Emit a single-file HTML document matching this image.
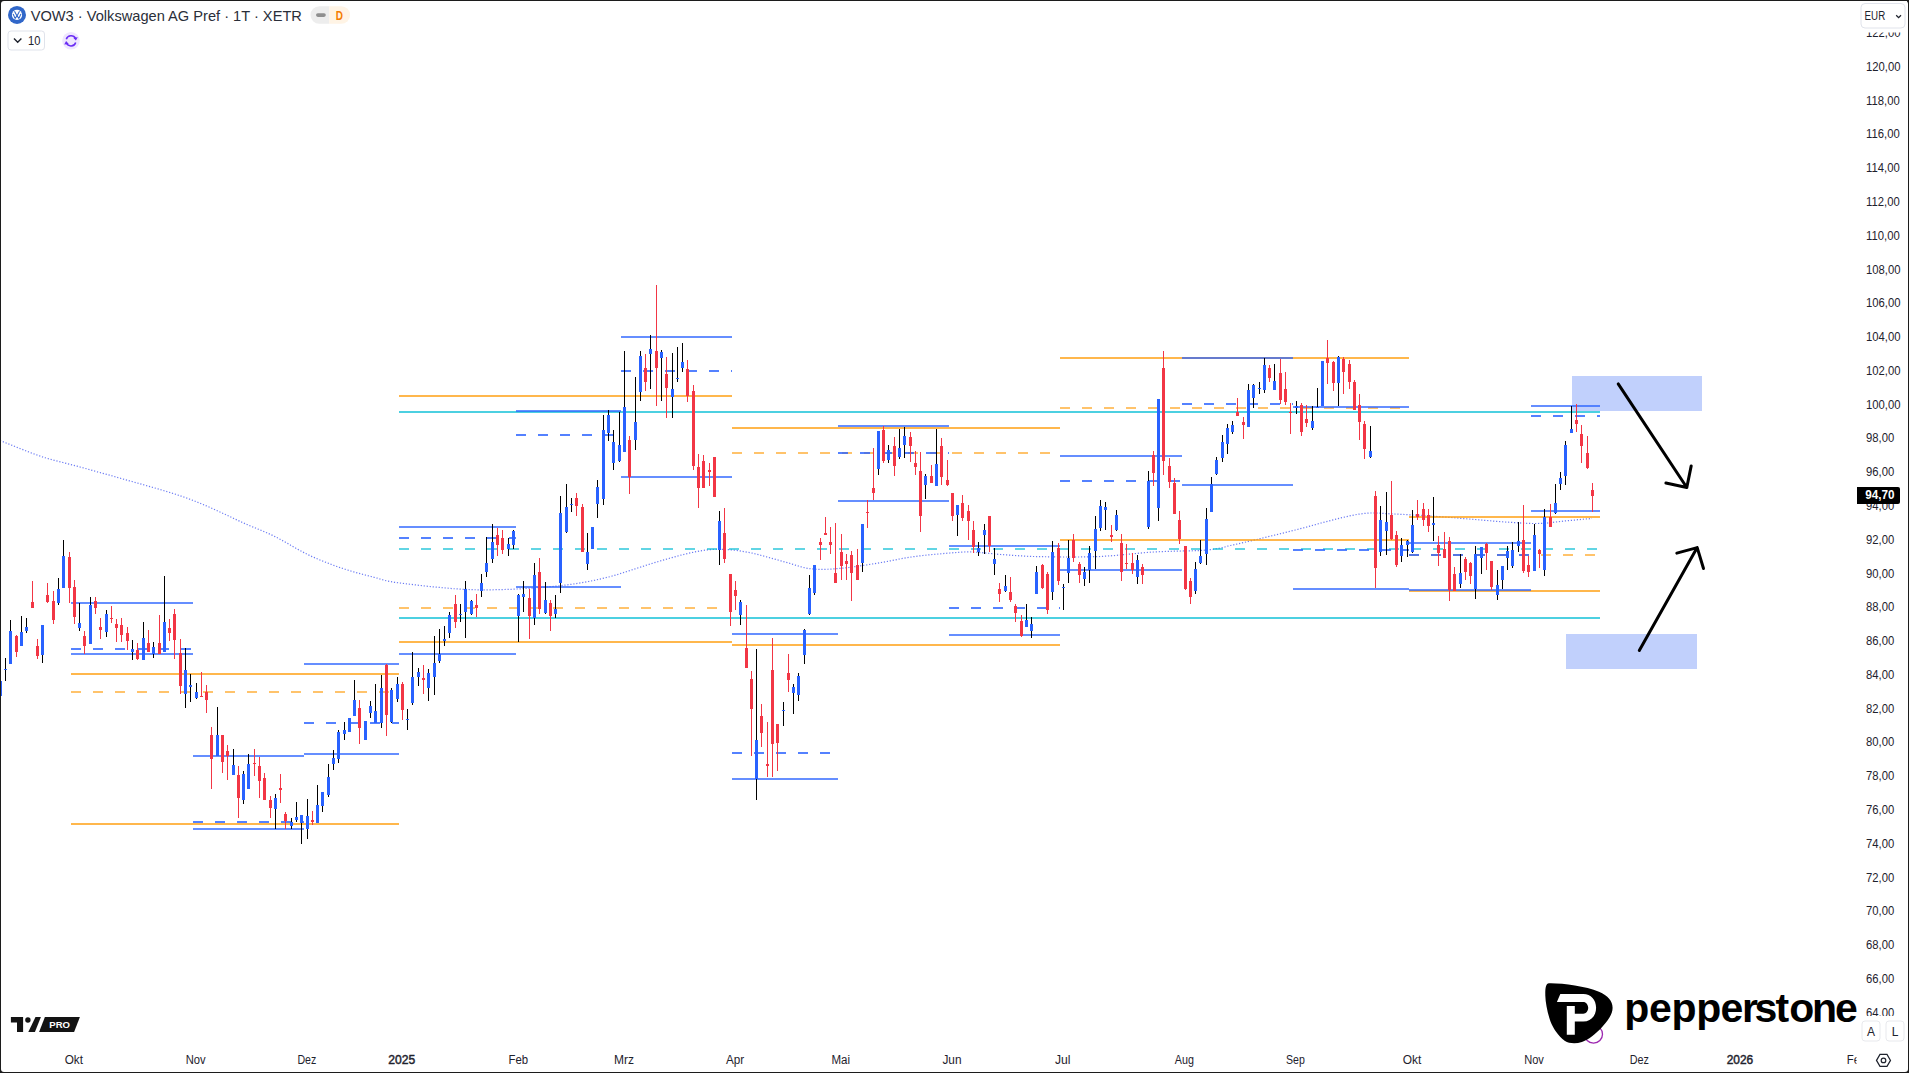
<!DOCTYPE html>
<html><head><meta charset="utf-8"><title>VOW3 chart</title>
<style>
html,body{margin:0;padding:0;background:#1c1c1c;}
body{width:1909px;height:1073px;overflow:hidden;position:relative;font-family:"Liberation Sans",sans-serif;}
#frame{position:absolute;left:1px;top:1px;width:1906.5px;height:1070.5px;background:#fff;border-radius:3px;overflow:hidden;}
svg{position:absolute;left:0;top:0;}
</style></head>
<body>
<div id="frame"></div>
<svg width="1909" height="1073" viewBox="0 0 1909 1073" font-family="Liberation Sans, sans-serif">
<defs>
<clipPath id="pane"><rect x="1" y="1" width="1855" height="1044"/></clipPath>
<clipPath id="taxis"><rect x="1" y="1045" width="1855.5" height="27"/></clipPath>
<clipPath id="paxis"><rect x="1857" y="30" width="50" height="986"/></clipPath>
</defs>
<g clip-path="url(#pane)" shape-rendering="crispEdges">
<rect x="1572" y="376" width="130" height="35" fill="#C1D0FC"/>
<rect x="1566" y="634" width="131" height="35" fill="#C1D0FC"/>
<path shape-rendering="geometricPrecision" d="M0.0,440.5 L3.2,441.8 L7.4,443.5 L12.5,445.5 L18.1,447.8 L24.0,450.1 L29.9,452.4 L35.5,454.5 L40.7,456.3 L45.4,457.8 L49.9,459.1 L54.2,460.3 L58.5,461.4 L62.9,462.5 L67.3,463.7 L72.0,464.9 L77.0,466.2 L82.2,467.6 L87.7,469.1 L93.2,470.7 L99.0,472.3 L104.8,473.9 L110.8,475.5 L116.8,477.3 L123.0,479.0 L129.4,480.8 L136.2,482.7 L143.2,484.7 L150.3,486.7 L157.3,488.7 L164.0,490.7 L170.3,492.6 L176.0,494.4 L181.1,496.1 L185.7,497.7 L189.8,499.2 L193.8,500.7 L197.5,502.2 L201.2,503.7 L205.0,505.3 L209.0,507.0 L213.1,508.8 L217.2,510.7 L221.4,512.6 L225.5,514.5 L229.6,516.5 L233.8,518.5 L237.9,520.4 L242.0,522.3 L246.1,524.1 L250.2,525.9 L254.4,527.6 L258.5,529.3 L262.6,531.0 L266.8,532.8 L270.9,534.6 L275.0,536.6 L279.1,538.7 L283.2,541.0 L287.4,543.3 L291.5,545.7 L295.6,548.1 L299.8,550.4 L303.9,552.6 L308.0,554.7 L312.1,556.6 L316.2,558.4 L320.4,560.2 L324.5,561.8 L328.6,563.4 L332.8,565.0 L336.9,566.5 L341.0,567.9 L345.2,569.3 L349.4,570.6 L353.7,571.9 L357.9,573.1 L362.1,574.2 L366.2,575.3 L370.2,576.3 L374.0,577.3 L377.3,578.2 L379.9,579.0 L382.2,579.7 L384.5,580.3 L387.1,581.0 L390.4,581.6 L394.5,582.3 L400.0,583.0 L406.9,583.9 L414.9,584.8 L423.9,585.9 L433.5,586.9 L443.5,587.8 L453.6,588.7 L463.5,589.3 L473.0,589.7 L482.3,589.9 L491.8,589.8 L501.4,589.6 L511.0,589.3 L520.4,588.8 L529.6,588.3 L538.4,587.7 L546.7,587.0 L554.5,586.3 L561.8,585.5 L568.7,584.7 L575.4,583.7 L581.9,582.7 L588.4,581.5 L595.0,580.2 L601.7,578.7 L608.7,577.0 L615.9,575.0 L623.1,572.7 L630.4,570.4 L637.4,568.1 L644.3,565.9 L650.7,563.8 L656.7,562.0 L662.2,560.4 L667.3,558.9 L672.1,557.6 L676.7,556.3 L681.0,555.1 L685.1,554.1 L689.1,553.1 L693.0,552.3 L696.7,551.6 L700.2,550.9 L703.4,550.4 L706.5,550.0 L709.5,549.7 L712.5,549.5 L715.7,549.3 L719.0,549.3 L722.4,549.3 L725.9,549.5 L729.3,549.7 L732.8,550.0 L736.4,550.4 L740.1,550.9 L744.0,551.6 L748.0,552.3 L752.3,553.2 L757.0,554.3 L761.8,555.6 L766.7,556.9 L771.6,558.3 L776.4,559.6 L780.9,560.9 L785.0,562.0 L788.7,563.0 L792.1,564.1 L795.3,565.1 L798.3,566.0 L801.3,566.9 L804.3,567.7 L807.4,568.3 L810.7,568.8 L814.1,569.1 L817.6,569.3 L821.1,569.4 L824.7,569.3 L828.3,569.2 L832.1,569.0 L836.0,568.7 L840.0,568.4 L844.2,568.0 L848.7,567.5 L853.2,566.9 L857.9,566.2 L862.6,565.5 L867.4,564.8 L872.1,564.0 L876.7,563.3 L881.3,562.5 L885.9,561.7 L890.5,560.8 L895.1,559.9 L899.6,559.0 L904.2,558.2 L908.8,557.4 L913.4,556.7 L918.1,556.1 L922.9,555.5 L927.8,555.0 L932.6,554.5 L937.3,554.1 L941.9,553.7 L946.1,553.3 L950.0,553.0 L953.4,552.7 L956.3,552.5 L958.8,552.3 L961.2,552.1 L963.6,552.0 L966.1,551.9 L968.8,551.9 L972.0,552.0 L975.6,552.2 L979.4,552.5 L983.4,552.8 L987.6,553.2 L991.9,553.6 L996.2,554.1 L1000.6,554.5 L1005.0,554.8 L1009.3,555.1 L1013.4,555.4 L1017.5,555.7 L1021.8,555.9 L1026.2,556.2 L1030.9,556.4 L1036.1,556.6 L1041.7,556.7 L1048.0,556.8 L1054.9,556.9 L1062.2,557.0 L1069.8,557.0 L1077.5,557.0 L1085.3,556.9 L1092.8,556.7 L1100.0,556.5 L1106.9,556.1 L1113.7,555.6 L1120.4,555.0 L1127.0,554.4 L1133.6,553.7 L1140.2,553.1 L1146.8,552.5 L1153.4,552.0 L1160.3,551.7 L1167.4,551.4 L1174.6,551.2 L1181.8,551.0 L1188.8,550.9 L1195.4,550.7 L1201.5,550.4 L1206.9,550.0 L1211.5,549.5 L1215.5,548.9 L1218.9,548.3 L1221.9,547.7 L1224.8,547.0 L1227.6,546.2 L1230.4,545.5 L1233.6,544.8 L1236.8,544.1 L1240.0,543.4 L1243.0,542.7 L1246.1,542.0 L1249.3,541.2 L1252.7,540.4 L1256.3,539.6 L1260.3,538.6 L1264.7,537.5 L1269.4,536.4 L1274.4,535.2 L1279.5,533.9 L1284.8,532.6 L1290.1,531.3 L1295.3,530.0 L1300.4,528.7 L1305.5,527.4 L1310.7,525.9 L1316.0,524.5 L1321.2,523.0 L1326.4,521.6 L1331.3,520.3 L1336.0,519.1 L1340.4,518.0 L1344.4,517.1 L1348.0,516.3 L1351.4,515.5 L1354.6,514.9 L1357.7,514.3 L1360.8,513.9 L1363.9,513.5 L1367.2,513.2 L1370.5,513.0 L1373.6,513.0 L1376.6,513.0 L1379.7,513.2 L1382.9,513.4 L1386.3,513.6 L1389.9,513.8 L1393.9,514.0 L1398.3,514.2 L1403.0,514.4 L1408.0,514.7 L1413.1,515.0 L1418.4,515.2 L1423.7,515.5 L1428.9,515.9 L1434.0,516.2 L1439.0,516.6 L1444.0,516.9 L1449.0,517.3 L1454.0,517.7 L1459.0,518.2 L1464.0,518.6 L1469.0,519.0 L1474.0,519.4 L1479.1,519.8 L1484.3,520.3 L1489.6,520.7 L1494.9,521.2 L1500.0,521.6 L1505.0,522.0 L1509.7,522.3 L1514.1,522.6 L1518.1,522.8 L1521.7,523.1 L1525.1,523.2 L1528.3,523.4 L1531.4,523.5 L1534.4,523.5 L1537.6,523.5 L1540.8,523.4 L1544.2,523.2 L1547.5,523.0 L1550.9,522.6 L1554.3,522.2 L1557.6,521.8 L1561.0,521.4 L1564.3,521.0 L1567.5,520.7 L1570.8,520.4 L1574.4,520.1 L1577.9,519.7 L1581.4,519.4 L1584.7,519.1 L1587.6,518.9 L1590.1,518.7 L1592.0,518.5" fill="none" stroke="rgba(70,90,240,0.8)" stroke-width="1.2" stroke-dasharray="1.2 1.8"/>
<rect x="399" y="411" width="1201" height="2" fill="rgba(0,188,212,0.70)"/>
<rect x="399" y="617" width="1201" height="2" fill="rgba(0,188,212,0.70)"/>
<rect x="399" y="548" width="10" height="2" fill="rgba(0,188,212,0.62)"/>
<rect x="421" y="548" width="10" height="2" fill="rgba(0,188,212,0.62)"/>
<rect x="443" y="548" width="10" height="2" fill="rgba(0,188,212,0.62)"/>
<rect x="465" y="548" width="10" height="2" fill="rgba(0,188,212,0.62)"/>
<rect x="487" y="548" width="10" height="2" fill="rgba(0,188,212,0.62)"/>
<rect x="509" y="548" width="10" height="2" fill="rgba(0,188,212,0.62)"/>
<rect x="531" y="548" width="10" height="2" fill="rgba(0,188,212,0.62)"/>
<rect x="553" y="548" width="10" height="2" fill="rgba(0,188,212,0.62)"/>
<rect x="575" y="548" width="10" height="2" fill="rgba(0,188,212,0.62)"/>
<rect x="597" y="548" width="10" height="2" fill="rgba(0,188,212,0.62)"/>
<rect x="619" y="548" width="10" height="2" fill="rgba(0,188,212,0.62)"/>
<rect x="641" y="548" width="10" height="2" fill="rgba(0,188,212,0.62)"/>
<rect x="663" y="548" width="10" height="2" fill="rgba(0,188,212,0.62)"/>
<rect x="685" y="548" width="10" height="2" fill="rgba(0,188,212,0.62)"/>
<rect x="707" y="548" width="10" height="2" fill="rgba(0,188,212,0.62)"/>
<rect x="729" y="548" width="10" height="2" fill="rgba(0,188,212,0.62)"/>
<rect x="751" y="548" width="10" height="2" fill="rgba(0,188,212,0.62)"/>
<rect x="773" y="548" width="10" height="2" fill="rgba(0,188,212,0.62)"/>
<rect x="795" y="548" width="10" height="2" fill="rgba(0,188,212,0.62)"/>
<rect x="817" y="548" width="10" height="2" fill="rgba(0,188,212,0.62)"/>
<rect x="839" y="548" width="10" height="2" fill="rgba(0,188,212,0.62)"/>
<rect x="861" y="548" width="10" height="2" fill="rgba(0,188,212,0.62)"/>
<rect x="883" y="548" width="10" height="2" fill="rgba(0,188,212,0.62)"/>
<rect x="905" y="548" width="10" height="2" fill="rgba(0,188,212,0.62)"/>
<rect x="927" y="548" width="10" height="2" fill="rgba(0,188,212,0.62)"/>
<rect x="949" y="548" width="10" height="2" fill="rgba(0,188,212,0.62)"/>
<rect x="971" y="548" width="10" height="2" fill="rgba(0,188,212,0.62)"/>
<rect x="993" y="548" width="10" height="2" fill="rgba(0,188,212,0.62)"/>
<rect x="1015" y="548" width="10" height="2" fill="rgba(0,188,212,0.62)"/>
<rect x="1037" y="548" width="10" height="2" fill="rgba(0,188,212,0.62)"/>
<rect x="1059" y="548" width="10" height="2" fill="rgba(0,188,212,0.62)"/>
<rect x="1081" y="548" width="10" height="2" fill="rgba(0,188,212,0.62)"/>
<rect x="1103" y="548" width="10" height="2" fill="rgba(0,188,212,0.62)"/>
<rect x="1125" y="548" width="10" height="2" fill="rgba(0,188,212,0.62)"/>
<rect x="1147" y="548" width="10" height="2" fill="rgba(0,188,212,0.62)"/>
<rect x="1169" y="548" width="10" height="2" fill="rgba(0,188,212,0.62)"/>
<rect x="1191" y="548" width="10" height="2" fill="rgba(0,188,212,0.62)"/>
<rect x="1213" y="548" width="10" height="2" fill="rgba(0,188,212,0.62)"/>
<rect x="1235" y="548" width="10" height="2" fill="rgba(0,188,212,0.62)"/>
<rect x="1257" y="548" width="10" height="2" fill="rgba(0,188,212,0.62)"/>
<rect x="1279" y="548" width="10" height="2" fill="rgba(0,188,212,0.62)"/>
<rect x="1301" y="548" width="10" height="2" fill="rgba(0,188,212,0.62)"/>
<rect x="1323" y="548" width="10" height="2" fill="rgba(0,188,212,0.62)"/>
<rect x="1345" y="548" width="10" height="2" fill="rgba(0,188,212,0.62)"/>
<rect x="1367" y="548" width="10" height="2" fill="rgba(0,188,212,0.62)"/>
<rect x="1389" y="548" width="10" height="2" fill="rgba(0,188,212,0.62)"/>
<rect x="1411" y="548" width="10" height="2" fill="rgba(0,188,212,0.62)"/>
<rect x="1433" y="548" width="10" height="2" fill="rgba(0,188,212,0.62)"/>
<rect x="1455" y="548" width="10" height="2" fill="rgba(0,188,212,0.62)"/>
<rect x="1477" y="548" width="10" height="2" fill="rgba(0,188,212,0.62)"/>
<rect x="1499" y="548" width="10" height="2" fill="rgba(0,188,212,0.62)"/>
<rect x="1521" y="548" width="10" height="2" fill="rgba(0,188,212,0.62)"/>
<rect x="1543" y="548" width="10" height="2" fill="rgba(0,188,212,0.62)"/>
<rect x="1565" y="548" width="10" height="2" fill="rgba(0,188,212,0.62)"/>
<rect x="1587" y="548" width="10" height="2" fill="rgba(0,188,212,0.62)"/>
<rect x="71" y="673" width="328" height="2" fill="rgba(255,152,0,0.70)"/>
<rect x="71" y="823" width="328" height="2" fill="rgba(255,152,0,0.70)"/>
<rect x="71" y="691" width="10" height="2" fill="rgba(255,152,0,0.58)"/>
<rect x="93" y="691" width="10" height="2" fill="rgba(255,152,0,0.58)"/>
<rect x="115" y="691" width="10" height="2" fill="rgba(255,152,0,0.58)"/>
<rect x="137" y="691" width="10" height="2" fill="rgba(255,152,0,0.58)"/>
<rect x="159" y="691" width="10" height="2" fill="rgba(255,152,0,0.58)"/>
<rect x="181" y="691" width="10" height="2" fill="rgba(255,152,0,0.58)"/>
<rect x="203" y="691" width="10" height="2" fill="rgba(255,152,0,0.58)"/>
<rect x="225" y="691" width="10" height="2" fill="rgba(255,152,0,0.58)"/>
<rect x="247" y="691" width="10" height="2" fill="rgba(255,152,0,0.58)"/>
<rect x="269" y="691" width="10" height="2" fill="rgba(255,152,0,0.58)"/>
<rect x="291" y="691" width="10" height="2" fill="rgba(255,152,0,0.58)"/>
<rect x="313" y="691" width="10" height="2" fill="rgba(255,152,0,0.58)"/>
<rect x="335" y="691" width="10" height="2" fill="rgba(255,152,0,0.58)"/>
<rect x="357" y="691" width="10" height="2" fill="rgba(255,152,0,0.58)"/>
<rect x="379" y="691" width="10" height="2" fill="rgba(255,152,0,0.58)"/>
<rect x="399" y="395" width="333" height="2" fill="rgba(255,152,0,0.70)"/>
<rect x="399" y="641" width="333" height="2" fill="rgba(255,152,0,0.70)"/>
<rect x="399" y="607" width="10" height="2" fill="rgba(255,152,0,0.58)"/>
<rect x="421" y="607" width="10" height="2" fill="rgba(255,152,0,0.58)"/>
<rect x="443" y="607" width="10" height="2" fill="rgba(255,152,0,0.58)"/>
<rect x="465" y="607" width="10" height="2" fill="rgba(255,152,0,0.58)"/>
<rect x="487" y="607" width="10" height="2" fill="rgba(255,152,0,0.58)"/>
<rect x="509" y="607" width="10" height="2" fill="rgba(255,152,0,0.58)"/>
<rect x="531" y="607" width="10" height="2" fill="rgba(255,152,0,0.58)"/>
<rect x="553" y="607" width="10" height="2" fill="rgba(255,152,0,0.58)"/>
<rect x="575" y="607" width="10" height="2" fill="rgba(255,152,0,0.58)"/>
<rect x="597" y="607" width="10" height="2" fill="rgba(255,152,0,0.58)"/>
<rect x="619" y="607" width="10" height="2" fill="rgba(255,152,0,0.58)"/>
<rect x="641" y="607" width="10" height="2" fill="rgba(255,152,0,0.58)"/>
<rect x="663" y="607" width="10" height="2" fill="rgba(255,152,0,0.58)"/>
<rect x="685" y="607" width="10" height="2" fill="rgba(255,152,0,0.58)"/>
<rect x="707" y="607" width="10" height="2" fill="rgba(255,152,0,0.58)"/>
<rect x="729" y="607" width="3" height="2" fill="rgba(255,152,0,0.58)"/>
<rect x="732" y="427" width="328" height="2" fill="rgba(255,152,0,0.70)"/>
<rect x="732" y="644" width="328" height="2" fill="rgba(255,152,0,0.70)"/>
<rect x="732" y="452" width="10" height="2" fill="rgba(255,152,0,0.58)"/>
<rect x="754" y="452" width="10" height="2" fill="rgba(255,152,0,0.58)"/>
<rect x="776" y="452" width="10" height="2" fill="rgba(255,152,0,0.58)"/>
<rect x="798" y="452" width="10" height="2" fill="rgba(255,152,0,0.58)"/>
<rect x="820" y="452" width="10" height="2" fill="rgba(255,152,0,0.58)"/>
<rect x="842" y="452" width="10" height="2" fill="rgba(255,152,0,0.58)"/>
<rect x="864" y="452" width="10" height="2" fill="rgba(255,152,0,0.58)"/>
<rect x="886" y="452" width="10" height="2" fill="rgba(255,152,0,0.58)"/>
<rect x="908" y="452" width="10" height="2" fill="rgba(255,152,0,0.58)"/>
<rect x="930" y="452" width="10" height="2" fill="rgba(255,152,0,0.58)"/>
<rect x="952" y="452" width="10" height="2" fill="rgba(255,152,0,0.58)"/>
<rect x="974" y="452" width="10" height="2" fill="rgba(255,152,0,0.58)"/>
<rect x="996" y="452" width="10" height="2" fill="rgba(255,152,0,0.58)"/>
<rect x="1018" y="452" width="10" height="2" fill="rgba(255,152,0,0.58)"/>
<rect x="1040" y="452" width="10" height="2" fill="rgba(255,152,0,0.58)"/>
<rect x="1060" y="357" width="349" height="2" fill="rgba(255,152,0,0.70)"/>
<rect x="1060" y="539" width="349" height="2" fill="rgba(255,152,0,0.70)"/>
<rect x="1060" y="407" width="10" height="2" fill="rgba(255,152,0,0.58)"/>
<rect x="1082" y="407" width="10" height="2" fill="rgba(255,152,0,0.58)"/>
<rect x="1104" y="407" width="10" height="2" fill="rgba(255,152,0,0.58)"/>
<rect x="1126" y="407" width="10" height="2" fill="rgba(255,152,0,0.58)"/>
<rect x="1148" y="407" width="10" height="2" fill="rgba(255,152,0,0.58)"/>
<rect x="1170" y="407" width="10" height="2" fill="rgba(255,152,0,0.58)"/>
<rect x="1192" y="407" width="10" height="2" fill="rgba(255,152,0,0.58)"/>
<rect x="1214" y="407" width="10" height="2" fill="rgba(255,152,0,0.58)"/>
<rect x="1236" y="407" width="10" height="2" fill="rgba(255,152,0,0.58)"/>
<rect x="1258" y="407" width="10" height="2" fill="rgba(255,152,0,0.58)"/>
<rect x="1280" y="407" width="10" height="2" fill="rgba(255,152,0,0.58)"/>
<rect x="1302" y="407" width="10" height="2" fill="rgba(255,152,0,0.58)"/>
<rect x="1324" y="407" width="10" height="2" fill="rgba(255,152,0,0.58)"/>
<rect x="1346" y="407" width="10" height="2" fill="rgba(255,152,0,0.58)"/>
<rect x="1368" y="407" width="10" height="2" fill="rgba(255,152,0,0.58)"/>
<rect x="1390" y="407" width="10" height="2" fill="rgba(255,152,0,0.58)"/>
<rect x="1409" y="516" width="191" height="2" fill="rgba(255,152,0,0.70)"/>
<rect x="1409" y="590" width="191" height="2" fill="rgba(255,152,0,0.70)"/>
<rect x="1409" y="554" width="10" height="2" fill="rgba(255,152,0,0.58)"/>
<rect x="1431" y="554" width="10" height="2" fill="rgba(255,152,0,0.58)"/>
<rect x="1453" y="554" width="10" height="2" fill="rgba(255,152,0,0.58)"/>
<rect x="1475" y="554" width="10" height="2" fill="rgba(255,152,0,0.58)"/>
<rect x="1497" y="554" width="10" height="2" fill="rgba(255,152,0,0.58)"/>
<rect x="1519" y="554" width="10" height="2" fill="rgba(255,152,0,0.58)"/>
<rect x="1541" y="554" width="10" height="2" fill="rgba(255,152,0,0.58)"/>
<rect x="1563" y="554" width="10" height="2" fill="rgba(255,152,0,0.58)"/>
<rect x="1585" y="554" width="10" height="2" fill="rgba(255,152,0,0.58)"/>
<rect x="71" y="602" width="122" height="2" fill="rgba(41,98,255,0.72)"/>
<rect x="71" y="653" width="122" height="2" fill="rgba(41,98,255,0.72)"/>
<rect x="71" y="648" width="10" height="2" fill="rgba(41,98,255,0.8)"/>
<rect x="93" y="648" width="10" height="2" fill="rgba(41,98,255,0.8)"/>
<rect x="115" y="648" width="10" height="2" fill="rgba(41,98,255,0.8)"/>
<rect x="137" y="648" width="10" height="2" fill="rgba(41,98,255,0.8)"/>
<rect x="159" y="648" width="10" height="2" fill="rgba(41,98,255,0.8)"/>
<rect x="181" y="648" width="10" height="2" fill="rgba(41,98,255,0.8)"/>
<rect x="193" y="755" width="111" height="2" fill="rgba(41,98,255,0.72)"/>
<rect x="193" y="828" width="111" height="2" fill="rgba(41,98,255,0.72)"/>
<rect x="193" y="821" width="10" height="2" fill="rgba(41,98,255,0.8)"/>
<rect x="215" y="821" width="10" height="2" fill="rgba(41,98,255,0.8)"/>
<rect x="237" y="821" width="10" height="2" fill="rgba(41,98,255,0.8)"/>
<rect x="259" y="821" width="10" height="2" fill="rgba(41,98,255,0.8)"/>
<rect x="281" y="821" width="10" height="2" fill="rgba(41,98,255,0.8)"/>
<rect x="303" y="821" width="1" height="2" fill="rgba(41,98,255,0.8)"/>
<rect x="304" y="663" width="95" height="2" fill="rgba(41,98,255,0.72)"/>
<rect x="304" y="753" width="95" height="2" fill="rgba(41,98,255,0.72)"/>
<rect x="304" y="722" width="10" height="2" fill="rgba(41,98,255,0.8)"/>
<rect x="326" y="722" width="10" height="2" fill="rgba(41,98,255,0.8)"/>
<rect x="348" y="722" width="10" height="2" fill="rgba(41,98,255,0.8)"/>
<rect x="370" y="722" width="10" height="2" fill="rgba(41,98,255,0.8)"/>
<rect x="392" y="722" width="7" height="2" fill="rgba(41,98,255,0.8)"/>
<rect x="399" y="526" width="117" height="2" fill="rgba(41,98,255,0.72)"/>
<rect x="399" y="653" width="117" height="2" fill="rgba(41,98,255,0.72)"/>
<rect x="399" y="537" width="10" height="2" fill="rgba(41,98,255,0.8)"/>
<rect x="421" y="537" width="10" height="2" fill="rgba(41,98,255,0.8)"/>
<rect x="443" y="537" width="10" height="2" fill="rgba(41,98,255,0.8)"/>
<rect x="465" y="537" width="10" height="2" fill="rgba(41,98,255,0.8)"/>
<rect x="487" y="537" width="10" height="2" fill="rgba(41,98,255,0.8)"/>
<rect x="509" y="537" width="7" height="2" fill="rgba(41,98,255,0.8)"/>
<rect x="516" y="410" width="105" height="2" fill="rgba(41,98,255,0.72)"/>
<rect x="516" y="586" width="105" height="2" fill="rgba(41,98,255,0.72)"/>
<rect x="516" y="434" width="10" height="2" fill="rgba(41,98,255,0.8)"/>
<rect x="538" y="434" width="10" height="2" fill="rgba(41,98,255,0.8)"/>
<rect x="560" y="434" width="10" height="2" fill="rgba(41,98,255,0.8)"/>
<rect x="582" y="434" width="10" height="2" fill="rgba(41,98,255,0.8)"/>
<rect x="604" y="434" width="10" height="2" fill="rgba(41,98,255,0.8)"/>
<rect x="621" y="336" width="111" height="2" fill="rgba(41,98,255,0.72)"/>
<rect x="621" y="476" width="111" height="2" fill="rgba(41,98,255,0.72)"/>
<rect x="621" y="370" width="10" height="2" fill="rgba(41,98,255,0.8)"/>
<rect x="643" y="370" width="10" height="2" fill="rgba(41,98,255,0.8)"/>
<rect x="665" y="370" width="10" height="2" fill="rgba(41,98,255,0.8)"/>
<rect x="687" y="370" width="10" height="2" fill="rgba(41,98,255,0.8)"/>
<rect x="709" y="370" width="10" height="2" fill="rgba(41,98,255,0.8)"/>
<rect x="731" y="370" width="1" height="2" fill="rgba(41,98,255,0.8)"/>
<rect x="732" y="633" width="106" height="2" fill="rgba(41,98,255,0.72)"/>
<rect x="732" y="778" width="106" height="2" fill="rgba(41,98,255,0.72)"/>
<rect x="732" y="752" width="10" height="2" fill="rgba(41,98,255,0.8)"/>
<rect x="754" y="752" width="10" height="2" fill="rgba(41,98,255,0.8)"/>
<rect x="776" y="752" width="10" height="2" fill="rgba(41,98,255,0.8)"/>
<rect x="798" y="752" width="10" height="2" fill="rgba(41,98,255,0.8)"/>
<rect x="820" y="752" width="10" height="2" fill="rgba(41,98,255,0.8)"/>
<rect x="838" y="425" width="111" height="2" fill="rgba(41,98,255,0.72)"/>
<rect x="838" y="500" width="111" height="2" fill="rgba(41,98,255,0.72)"/>
<rect x="838" y="452" width="10" height="2" fill="rgba(41,98,255,0.8)"/>
<rect x="860" y="452" width="10" height="2" fill="rgba(41,98,255,0.8)"/>
<rect x="882" y="452" width="10" height="2" fill="rgba(41,98,255,0.8)"/>
<rect x="904" y="452" width="10" height="2" fill="rgba(41,98,255,0.8)"/>
<rect x="926" y="452" width="10" height="2" fill="rgba(41,98,255,0.8)"/>
<rect x="948" y="452" width="1" height="2" fill="rgba(41,98,255,0.8)"/>
<rect x="949" y="545" width="111" height="2" fill="rgba(41,98,255,0.72)"/>
<rect x="949" y="634" width="111" height="2" fill="rgba(41,98,255,0.72)"/>
<rect x="949" y="607" width="10" height="2" fill="rgba(41,98,255,0.8)"/>
<rect x="971" y="607" width="10" height="2" fill="rgba(41,98,255,0.8)"/>
<rect x="993" y="607" width="10" height="2" fill="rgba(41,98,255,0.8)"/>
<rect x="1015" y="607" width="10" height="2" fill="rgba(41,98,255,0.8)"/>
<rect x="1037" y="607" width="10" height="2" fill="rgba(41,98,255,0.8)"/>
<rect x="1059" y="607" width="1" height="2" fill="rgba(41,98,255,0.8)"/>
<rect x="1060" y="455" width="122" height="2" fill="rgba(41,98,255,0.72)"/>
<rect x="1060" y="569" width="122" height="2" fill="rgba(41,98,255,0.72)"/>
<rect x="1060" y="480" width="10" height="2" fill="rgba(41,98,255,0.8)"/>
<rect x="1082" y="480" width="10" height="2" fill="rgba(41,98,255,0.8)"/>
<rect x="1104" y="480" width="10" height="2" fill="rgba(41,98,255,0.8)"/>
<rect x="1126" y="480" width="10" height="2" fill="rgba(41,98,255,0.8)"/>
<rect x="1148" y="480" width="10" height="2" fill="rgba(41,98,255,0.8)"/>
<rect x="1170" y="480" width="10" height="2" fill="rgba(41,98,255,0.8)"/>
<rect x="1182" y="357" width="111" height="2" fill="rgba(41,98,255,0.72)"/>
<rect x="1182" y="484" width="111" height="2" fill="rgba(41,98,255,0.72)"/>
<rect x="1182" y="403" width="10" height="2" fill="rgba(41,98,255,0.8)"/>
<rect x="1204" y="403" width="10" height="2" fill="rgba(41,98,255,0.8)"/>
<rect x="1226" y="403" width="10" height="2" fill="rgba(41,98,255,0.8)"/>
<rect x="1248" y="403" width="10" height="2" fill="rgba(41,98,255,0.8)"/>
<rect x="1270" y="403" width="10" height="2" fill="rgba(41,98,255,0.8)"/>
<rect x="1292" y="403" width="1" height="2" fill="rgba(41,98,255,0.8)"/>
<rect x="1293" y="406" width="116" height="2" fill="rgba(41,98,255,0.72)"/>
<rect x="1293" y="588" width="116" height="2" fill="rgba(41,98,255,0.72)"/>
<rect x="1293" y="549" width="10" height="2" fill="rgba(41,98,255,0.8)"/>
<rect x="1315" y="549" width="10" height="2" fill="rgba(41,98,255,0.8)"/>
<rect x="1337" y="549" width="10" height="2" fill="rgba(41,98,255,0.8)"/>
<rect x="1359" y="549" width="10" height="2" fill="rgba(41,98,255,0.8)"/>
<rect x="1381" y="549" width="10" height="2" fill="rgba(41,98,255,0.8)"/>
<rect x="1403" y="549" width="6" height="2" fill="rgba(41,98,255,0.8)"/>
<rect x="1409" y="542" width="122" height="2" fill="rgba(41,98,255,0.72)"/>
<rect x="1409" y="589" width="122" height="2" fill="rgba(41,98,255,0.72)"/>
<rect x="1409" y="554" width="10" height="2" fill="rgba(41,98,255,0.8)"/>
<rect x="1431" y="554" width="10" height="2" fill="rgba(41,98,255,0.8)"/>
<rect x="1453" y="554" width="10" height="2" fill="rgba(41,98,255,0.8)"/>
<rect x="1475" y="554" width="10" height="2" fill="rgba(41,98,255,0.8)"/>
<rect x="1497" y="554" width="10" height="2" fill="rgba(41,98,255,0.8)"/>
<rect x="1519" y="554" width="10" height="2" fill="rgba(41,98,255,0.8)"/>
<rect x="1531" y="405" width="69" height="2" fill="rgba(41,98,255,0.72)"/>
<rect x="1531" y="510" width="69" height="2" fill="rgba(41,98,255,0.72)"/>
<rect x="1531" y="415" width="10" height="2" fill="rgba(41,98,255,0.8)"/>
<rect x="1553" y="415" width="10" height="2" fill="rgba(41,98,255,0.8)"/>
<rect x="1575" y="415" width="10" height="2" fill="rgba(41,98,255,0.8)"/>
<rect x="1597" y="415" width="3" height="2" fill="rgba(41,98,255,0.8)"/>
<rect x="0" y="679" width="1" height="19" fill="#000000"/>
<rect x="-1" y="681" width="3" height="15" fill="#2962FF"/>
<rect x="5" y="658" width="1" height="23" fill="#000000"/>
<rect x="4" y="669" width="3" height="1" fill="#2962FF"/>
<rect x="10" y="620" width="1" height="44" fill="#000000"/>
<rect x="9" y="631" width="3" height="33" fill="#2962FF"/>
<rect x="16" y="635" width="1" height="22" fill="#F23645"/>
<rect x="15" y="636" width="3" height="16" fill="#F23645"/>
<rect x="21" y="616" width="1" height="30" fill="#000000"/>
<rect x="20" y="632" width="3" height="14" fill="#2962FF"/>
<rect x="26" y="618" width="1" height="15" fill="#000000"/>
<rect x="25" y="627" width="3" height="4" fill="#2962FF"/>
<rect x="32" y="581" width="1" height="27" fill="#F23645"/>
<rect x="31" y="602" width="3" height="6" fill="#F23645"/>
<rect x="37" y="639" width="1" height="20" fill="#F23645"/>
<rect x="36" y="646" width="3" height="10" fill="#F23645"/>
<rect x="42" y="625" width="1" height="38" fill="#000000"/>
<rect x="41" y="625" width="3" height="30" fill="#2962FF"/>
<rect x="47" y="583" width="1" height="20" fill="#F23645"/>
<rect x="46" y="595" width="3" height="7" fill="#F23645"/>
<rect x="53" y="591" width="1" height="33" fill="#F23645"/>
<rect x="52" y="601" width="3" height="19" fill="#F23645"/>
<rect x="58" y="578" width="1" height="27" fill="#000000"/>
<rect x="57" y="589" width="3" height="14" fill="#2962FF"/>
<rect x="63" y="540" width="1" height="48" fill="#000000"/>
<rect x="62" y="556" width="3" height="32" fill="#2962FF"/>
<rect x="69" y="552" width="1" height="51" fill="#F23645"/>
<rect x="68" y="557" width="3" height="31" fill="#F23645"/>
<rect x="74" y="580" width="1" height="44" fill="#F23645"/>
<rect x="73" y="587" width="3" height="30" fill="#F23645"/>
<rect x="79" y="603" width="1" height="28" fill="#000000"/>
<rect x="78" y="623" width="3" height="5" fill="#2962FF"/>
<rect x="84" y="631" width="1" height="23" fill="#F23645"/>
<rect x="83" y="636" width="3" height="10" fill="#F23645"/>
<rect x="90" y="597" width="1" height="47" fill="#000000"/>
<rect x="89" y="605" width="3" height="39" fill="#2962FF"/>
<rect x="95" y="597" width="1" height="17" fill="#F23645"/>
<rect x="94" y="601" width="3" height="7" fill="#F23645"/>
<rect x="100" y="618" width="1" height="21" fill="#F23645"/>
<rect x="99" y="627" width="3" height="3" fill="#F23645"/>
<rect x="106" y="610" width="1" height="27" fill="#000000"/>
<rect x="105" y="614" width="3" height="18" fill="#2962FF"/>
<rect x="111" y="606" width="1" height="17" fill="#F23645"/>
<rect x="110" y="618" width="3" height="1" fill="#F23645"/>
<rect x="116" y="619" width="1" height="23" fill="#F23645"/>
<rect x="115" y="624" width="3" height="4" fill="#F23645"/>
<rect x="121" y="618" width="1" height="24" fill="#F23645"/>
<rect x="120" y="625" width="3" height="10" fill="#F23645"/>
<rect x="127" y="627" width="1" height="23" fill="#F23645"/>
<rect x="126" y="633" width="3" height="8" fill="#F23645"/>
<rect x="132" y="640" width="1" height="20" fill="#000000"/>
<rect x="131" y="649" width="3" height="3" fill="#2962FF"/>
<rect x="137" y="643" width="1" height="17" fill="#F23645"/>
<rect x="136" y="650" width="3" height="9" fill="#F23645"/>
<rect x="143" y="622" width="1" height="38" fill="#000000"/>
<rect x="142" y="638" width="3" height="22" fill="#2962FF"/>
<rect x="148" y="630" width="1" height="22" fill="#F23645"/>
<rect x="147" y="643" width="3" height="9" fill="#F23645"/>
<rect x="153" y="642" width="1" height="16" fill="#000000"/>
<rect x="152" y="647" width="3" height="7" fill="#2962FF"/>
<rect x="159" y="615" width="1" height="39" fill="#F23645"/>
<rect x="158" y="643" width="3" height="11" fill="#F23645"/>
<rect x="164" y="576" width="1" height="76" fill="#000000"/>
<rect x="163" y="622" width="3" height="30" fill="#2962FF"/>
<rect x="169" y="619" width="1" height="22" fill="#F23645"/>
<rect x="168" y="628" width="3" height="5" fill="#F23645"/>
<rect x="174" y="609" width="1" height="50" fill="#F23645"/>
<rect x="173" y="614" width="3" height="26" fill="#F23645"/>
<rect x="180" y="639" width="1" height="55" fill="#F23645"/>
<rect x="179" y="653" width="3" height="33" fill="#F23645"/>
<rect x="185" y="648" width="1" height="60" fill="#000000"/>
<rect x="184" y="670" width="3" height="24" fill="#2962FF"/>
<rect x="190" y="674" width="1" height="28" fill="#000000"/>
<rect x="189" y="685" width="3" height="2" fill="#2962FF"/>
<rect x="196" y="683" width="1" height="16" fill="#000000"/>
<rect x="195" y="692" width="3" height="6" fill="#2962FF"/>
<rect x="201" y="672" width="1" height="25" fill="#F23645"/>
<rect x="200" y="696" width="3" height="1" fill="#F23645"/>
<rect x="206" y="685" width="1" height="28" fill="#F23645"/>
<rect x="205" y="692" width="3" height="8" fill="#F23645"/>
<rect x="211" y="727" width="1" height="62" fill="#F23645"/>
<rect x="210" y="735" width="3" height="24" fill="#F23645"/>
<rect x="217" y="707" width="1" height="49" fill="#000000"/>
<rect x="216" y="735" width="3" height="21" fill="#2962FF"/>
<rect x="222" y="735" width="1" height="38" fill="#F23645"/>
<rect x="221" y="735" width="3" height="27" fill="#F23645"/>
<rect x="227" y="745" width="1" height="35" fill="#F23645"/>
<rect x="226" y="751" width="3" height="5" fill="#F23645"/>
<rect x="233" y="749" width="1" height="26" fill="#000000"/>
<rect x="232" y="765" width="3" height="10" fill="#2962FF"/>
<rect x="238" y="766" width="1" height="52" fill="#F23645"/>
<rect x="237" y="775" width="3" height="23" fill="#F23645"/>
<rect x="243" y="771" width="1" height="33" fill="#000000"/>
<rect x="242" y="774" width="3" height="26" fill="#2962FF"/>
<rect x="248" y="754" width="1" height="35" fill="#000000"/>
<rect x="247" y="764" width="3" height="25" fill="#2962FF"/>
<rect x="254" y="749" width="1" height="27" fill="#F23645"/>
<rect x="253" y="763" width="3" height="1" fill="#F23645"/>
<rect x="259" y="757" width="1" height="41" fill="#F23645"/>
<rect x="258" y="766" width="3" height="15" fill="#F23645"/>
<rect x="264" y="773" width="1" height="27" fill="#F23645"/>
<rect x="263" y="778" width="3" height="22" fill="#F23645"/>
<rect x="270" y="796" width="1" height="22" fill="#F23645"/>
<rect x="269" y="800" width="3" height="8" fill="#F23645"/>
<rect x="275" y="794" width="1" height="35" fill="#000000"/>
<rect x="274" y="798" width="3" height="11" fill="#2962FF"/>
<rect x="280" y="774" width="1" height="29" fill="#F23645"/>
<rect x="279" y="788" width="3" height="2" fill="#F23645"/>
<rect x="285" y="812" width="1" height="17" fill="#F23645"/>
<rect x="284" y="814" width="3" height="7" fill="#F23645"/>
<rect x="291" y="818" width="1" height="11" fill="#000000"/>
<rect x="290" y="822" width="3" height="4" fill="#2962FF"/>
<rect x="296" y="802" width="1" height="20" fill="#000000"/>
<rect x="295" y="817" width="3" height="3" fill="#2962FF"/>
<rect x="301" y="815" width="1" height="29" fill="#000000"/>
<rect x="300" y="815" width="3" height="8" fill="#2962FF"/>
<rect x="307" y="799" width="1" height="40" fill="#000000"/>
<rect x="306" y="816" width="3" height="13" fill="#2962FF"/>
<rect x="312" y="811" width="1" height="14" fill="#F23645"/>
<rect x="311" y="820" width="3" height="2" fill="#F23645"/>
<rect x="317" y="785" width="1" height="38" fill="#000000"/>
<rect x="316" y="805" width="3" height="18" fill="#2962FF"/>
<rect x="322" y="792" width="1" height="20" fill="#000000"/>
<rect x="321" y="792" width="3" height="14" fill="#2962FF"/>
<rect x="328" y="764" width="1" height="33" fill="#000000"/>
<rect x="327" y="777" width="3" height="18" fill="#2962FF"/>
<rect x="333" y="750" width="1" height="20" fill="#000000"/>
<rect x="332" y="758" width="3" height="6" fill="#2962FF"/>
<rect x="338" y="730" width="1" height="33" fill="#000000"/>
<rect x="337" y="732" width="3" height="27" fill="#2962FF"/>
<rect x="344" y="722" width="1" height="18" fill="#000000"/>
<rect x="343" y="730" width="3" height="4" fill="#2962FF"/>
<rect x="349" y="718" width="1" height="14" fill="#000000"/>
<rect x="348" y="718" width="3" height="14" fill="#2962FF"/>
<rect x="354" y="680" width="1" height="36" fill="#000000"/>
<rect x="353" y="700" width="3" height="16" fill="#2962FF"/>
<rect x="359" y="700" width="1" height="44" fill="#F23645"/>
<rect x="358" y="708" width="3" height="20" fill="#F23645"/>
<rect x="365" y="721" width="1" height="19" fill="#000000"/>
<rect x="364" y="721" width="3" height="19" fill="#2962FF"/>
<rect x="370" y="701" width="1" height="17" fill="#000000"/>
<rect x="369" y="706" width="3" height="7" fill="#2962FF"/>
<rect x="375" y="684" width="1" height="39" fill="#000000"/>
<rect x="374" y="711" width="3" height="12" fill="#2962FF"/>
<rect x="381" y="675" width="1" height="53" fill="#000000"/>
<rect x="380" y="688" width="3" height="35" fill="#2962FF"/>
<rect x="386" y="664" width="1" height="72" fill="#F23645"/>
<rect x="385" y="665" width="3" height="50" fill="#F23645"/>
<rect x="391" y="688" width="1" height="35" fill="#000000"/>
<rect x="390" y="690" width="3" height="32" fill="#2962FF"/>
<rect x="397" y="677" width="1" height="25" fill="#000000"/>
<rect x="396" y="684" width="3" height="15" fill="#2962FF"/>
<rect x="402" y="682" width="1" height="38" fill="#F23645"/>
<rect x="401" y="684" width="3" height="26" fill="#F23645"/>
<rect x="407" y="709" width="1" height="21" fill="#000000"/>
<rect x="406" y="719" width="3" height="1" fill="#2962FF"/>
<rect x="412" y="652" width="1" height="53" fill="#000000"/>
<rect x="411" y="677" width="3" height="26" fill="#2962FF"/>
<rect x="418" y="668" width="1" height="18" fill="#000000"/>
<rect x="417" y="672" width="3" height="5" fill="#2962FF"/>
<rect x="423" y="665" width="1" height="29" fill="#F23645"/>
<rect x="422" y="678" width="3" height="2" fill="#F23645"/>
<rect x="428" y="669" width="1" height="32" fill="#000000"/>
<rect x="427" y="673" width="3" height="15" fill="#2962FF"/>
<rect x="434" y="636" width="1" height="59" fill="#000000"/>
<rect x="433" y="663" width="3" height="14" fill="#2962FF"/>
<rect x="439" y="629" width="1" height="34" fill="#000000"/>
<rect x="438" y="654" width="3" height="7" fill="#2962FF"/>
<rect x="444" y="626" width="1" height="20" fill="#000000"/>
<rect x="443" y="639" width="3" height="2" fill="#2962FF"/>
<rect x="449" y="612" width="1" height="26" fill="#000000"/>
<rect x="448" y="615" width="3" height="18" fill="#2962FF"/>
<rect x="455" y="595" width="1" height="33" fill="#F23645"/>
<rect x="454" y="604" width="3" height="18" fill="#F23645"/>
<rect x="460" y="604" width="1" height="18" fill="#000000"/>
<rect x="459" y="614" width="3" height="1" fill="#2962FF"/>
<rect x="465" y="581" width="1" height="57" fill="#000000"/>
<rect x="464" y="589" width="3" height="23" fill="#2962FF"/>
<rect x="471" y="600" width="1" height="15" fill="#000000"/>
<rect x="470" y="601" width="3" height="13" fill="#2962FF"/>
<rect x="476" y="594" width="1" height="23" fill="#F23645"/>
<rect x="475" y="605" width="3" height="3" fill="#F23645"/>
<rect x="481" y="574" width="1" height="23" fill="#000000"/>
<rect x="480" y="583" width="3" height="8" fill="#2962FF"/>
<rect x="486" y="537" width="1" height="40" fill="#000000"/>
<rect x="485" y="563" width="3" height="9" fill="#2962FF"/>
<rect x="492" y="524" width="1" height="39" fill="#000000"/>
<rect x="491" y="542" width="3" height="17" fill="#2962FF"/>
<rect x="497" y="528" width="1" height="28" fill="#F23645"/>
<rect x="496" y="535" width="3" height="10" fill="#F23645"/>
<rect x="502" y="530" width="1" height="24" fill="#F23645"/>
<rect x="501" y="538" width="3" height="12" fill="#F23645"/>
<rect x="508" y="538" width="1" height="18" fill="#000000"/>
<rect x="507" y="544" width="3" height="5" fill="#2962FF"/>
<rect x="513" y="530" width="1" height="19" fill="#000000"/>
<rect x="512" y="531" width="3" height="14" fill="#2962FF"/>
<rect x="518" y="594" width="1" height="48" fill="#000000"/>
<rect x="517" y="595" width="3" height="21" fill="#2962FF"/>
<rect x="523" y="581" width="1" height="31" fill="#000000"/>
<rect x="522" y="594" width="3" height="3" fill="#2962FF"/>
<rect x="529" y="589" width="1" height="50" fill="#F23645"/>
<rect x="528" y="598" width="3" height="18" fill="#F23645"/>
<rect x="534" y="563" width="1" height="62" fill="#000000"/>
<rect x="533" y="575" width="3" height="43" fill="#2962FF"/>
<rect x="539" y="558" width="1" height="56" fill="#F23645"/>
<rect x="538" y="572" width="3" height="37" fill="#F23645"/>
<rect x="545" y="582" width="1" height="32" fill="#000000"/>
<rect x="544" y="600" width="3" height="13" fill="#2962FF"/>
<rect x="550" y="600" width="1" height="31" fill="#F23645"/>
<rect x="549" y="603" width="3" height="13" fill="#F23645"/>
<rect x="555" y="595" width="1" height="23" fill="#000000"/>
<rect x="554" y="609" width="3" height="5" fill="#2962FF"/>
<rect x="560" y="496" width="1" height="97" fill="#000000"/>
<rect x="559" y="513" width="3" height="70" fill="#2962FF"/>
<rect x="566" y="484" width="1" height="49" fill="#000000"/>
<rect x="565" y="507" width="3" height="25" fill="#2962FF"/>
<rect x="571" y="498" width="1" height="14" fill="#000000"/>
<rect x="570" y="504" width="3" height="1" fill="#2962FF"/>
<rect x="576" y="493" width="1" height="23" fill="#F23645"/>
<rect x="575" y="498" width="3" height="8" fill="#F23645"/>
<rect x="582" y="504" width="1" height="48" fill="#F23645"/>
<rect x="581" y="507" width="3" height="45" fill="#F23645"/>
<rect x="587" y="533" width="1" height="37" fill="#000000"/>
<rect x="586" y="552" width="3" height="12" fill="#2962FF"/>
<rect x="592" y="527" width="1" height="22" fill="#000000"/>
<rect x="591" y="527" width="3" height="22" fill="#2962FF"/>
<rect x="597" y="480" width="1" height="38" fill="#000000"/>
<rect x="596" y="487" width="3" height="17" fill="#2962FF"/>
<rect x="603" y="415" width="1" height="90" fill="#000000"/>
<rect x="602" y="430" width="3" height="69" fill="#2962FF"/>
<rect x="608" y="410" width="1" height="31" fill="#000000"/>
<rect x="607" y="415" width="3" height="18" fill="#2962FF"/>
<rect x="613" y="430" width="1" height="40" fill="#000000"/>
<rect x="612" y="442" width="3" height="21" fill="#2962FF"/>
<rect x="619" y="412" width="1" height="50" fill="#000000"/>
<rect x="618" y="445" width="3" height="16" fill="#2962FF"/>
<rect x="624" y="351" width="1" height="101" fill="#000000"/>
<rect x="623" y="407" width="3" height="45" fill="#2962FF"/>
<rect x="629" y="436" width="1" height="58" fill="#F23645"/>
<rect x="628" y="440" width="3" height="37" fill="#F23645"/>
<rect x="635" y="377" width="1" height="73" fill="#000000"/>
<rect x="634" y="422" width="3" height="18" fill="#2962FF"/>
<rect x="640" y="351" width="1" height="50" fill="#000000"/>
<rect x="639" y="356" width="3" height="36" fill="#2962FF"/>
<rect x="645" y="354" width="1" height="37" fill="#F23645"/>
<rect x="644" y="368" width="3" height="14" fill="#F23645"/>
<rect x="650" y="335" width="1" height="54" fill="#000000"/>
<rect x="649" y="349" width="3" height="5" fill="#2962FF"/>
<rect x="656" y="285" width="1" height="121" fill="#F23645"/>
<rect x="655" y="351" width="3" height="17" fill="#F23645"/>
<rect x="661" y="350" width="1" height="51" fill="#000000"/>
<rect x="660" y="352" width="3" height="6" fill="#2962FF"/>
<rect x="666" y="357" width="1" height="61" fill="#F23645"/>
<rect x="665" y="374" width="3" height="14" fill="#F23645"/>
<rect x="672" y="353" width="1" height="65" fill="#000000"/>
<rect x="671" y="389" width="3" height="8" fill="#2962FF"/>
<rect x="677" y="347" width="1" height="35" fill="#000000"/>
<rect x="676" y="378" width="3" height="1" fill="#2962FF"/>
<rect x="682" y="343" width="1" height="29" fill="#000000"/>
<rect x="681" y="362" width="3" height="6" fill="#2962FF"/>
<rect x="687" y="360" width="1" height="42" fill="#F23645"/>
<rect x="686" y="369" width="3" height="27" fill="#F23645"/>
<rect x="693" y="385" width="1" height="85" fill="#F23645"/>
<rect x="692" y="391" width="3" height="75" fill="#F23645"/>
<rect x="698" y="454" width="1" height="54" fill="#F23645"/>
<rect x="697" y="467" width="3" height="21" fill="#F23645"/>
<rect x="703" y="455" width="1" height="33" fill="#F23645"/>
<rect x="702" y="461" width="3" height="27" fill="#F23645"/>
<rect x="709" y="463" width="1" height="23" fill="#F23645"/>
<rect x="708" y="470" width="3" height="2" fill="#F23645"/>
<rect x="714" y="457" width="1" height="40" fill="#F23645"/>
<rect x="713" y="457" width="3" height="40" fill="#F23645"/>
<rect x="719" y="511" width="1" height="54" fill="#000000"/>
<rect x="718" y="521" width="3" height="29" fill="#2962FF"/>
<rect x="724" y="508" width="1" height="55" fill="#F23645"/>
<rect x="723" y="533" width="3" height="26" fill="#F23645"/>
<rect x="730" y="574" width="1" height="52" fill="#F23645"/>
<rect x="729" y="574" width="3" height="38" fill="#F23645"/>
<rect x="735" y="581" width="1" height="29" fill="#F23645"/>
<rect x="734" y="590" width="3" height="6" fill="#F23645"/>
<rect x="740" y="600" width="1" height="25" fill="#000000"/>
<rect x="739" y="602" width="3" height="13" fill="#2962FF"/>
<rect x="746" y="605" width="1" height="63" fill="#F23645"/>
<rect x="745" y="648" width="3" height="20" fill="#F23645"/>
<rect x="751" y="671" width="1" height="85" fill="#F23645"/>
<rect x="750" y="679" width="3" height="30" fill="#F23645"/>
<rect x="756" y="649" width="1" height="151" fill="#000000"/>
<rect x="755" y="740" width="3" height="39" fill="#2962FF"/>
<rect x="761" y="704" width="1" height="43" fill="#F23645"/>
<rect x="760" y="716" width="3" height="17" fill="#F23645"/>
<rect x="767" y="722" width="1" height="55" fill="#F23645"/>
<rect x="766" y="764" width="3" height="2" fill="#F23645"/>
<rect x="772" y="638" width="1" height="139" fill="#F23645"/>
<rect x="771" y="670" width="3" height="74" fill="#F23645"/>
<rect x="777" y="724" width="1" height="47" fill="#F23645"/>
<rect x="776" y="724" width="3" height="19" fill="#F23645"/>
<rect x="783" y="702" width="1" height="24" fill="#000000"/>
<rect x="782" y="710" width="3" height="1" fill="#2962FF"/>
<rect x="788" y="654" width="1" height="38" fill="#F23645"/>
<rect x="787" y="673" width="3" height="7" fill="#F23645"/>
<rect x="793" y="684" width="1" height="30" fill="#000000"/>
<rect x="792" y="687" width="3" height="6" fill="#2962FF"/>
<rect x="798" y="673" width="1" height="28" fill="#000000"/>
<rect x="797" y="676" width="3" height="19" fill="#2962FF"/>
<rect x="804" y="629" width="1" height="35" fill="#000000"/>
<rect x="803" y="630" width="3" height="25" fill="#2962FF"/>
<rect x="809" y="575" width="1" height="40" fill="#000000"/>
<rect x="808" y="588" width="3" height="26" fill="#2962FF"/>
<rect x="814" y="565" width="1" height="30" fill="#000000"/>
<rect x="813" y="565" width="3" height="28" fill="#2962FF"/>
<rect x="820" y="538" width="1" height="22" fill="#F23645"/>
<rect x="819" y="542" width="3" height="3" fill="#F23645"/>
<rect x="825" y="517" width="1" height="18" fill="#F23645"/>
<rect x="824" y="533" width="3" height="2" fill="#F23645"/>
<rect x="830" y="527" width="1" height="27" fill="#F23645"/>
<rect x="829" y="542" width="3" height="3" fill="#F23645"/>
<rect x="835" y="523" width="1" height="60" fill="#F23645"/>
<rect x="834" y="573" width="3" height="10" fill="#F23645"/>
<rect x="841" y="534" width="1" height="46" fill="#F23645"/>
<rect x="840" y="552" width="3" height="14" fill="#F23645"/>
<rect x="846" y="554" width="1" height="26" fill="#F23645"/>
<rect x="845" y="561" width="3" height="3" fill="#F23645"/>
<rect x="851" y="551" width="1" height="50" fill="#F23645"/>
<rect x="850" y="555" width="3" height="18" fill="#F23645"/>
<rect x="857" y="549" width="1" height="31" fill="#F23645"/>
<rect x="856" y="565" width="3" height="15" fill="#F23645"/>
<rect x="862" y="524" width="1" height="48" fill="#000000"/>
<rect x="861" y="524" width="3" height="39" fill="#2962FF"/>
<rect x="867" y="500" width="1" height="28" fill="#F23645"/>
<rect x="866" y="512" width="3" height="1" fill="#F23645"/>
<rect x="873" y="448" width="1" height="52" fill="#F23645"/>
<rect x="872" y="488" width="3" height="5" fill="#F23645"/>
<rect x="878" y="431" width="1" height="44" fill="#000000"/>
<rect x="877" y="431" width="3" height="38" fill="#2962FF"/>
<rect x="883" y="426" width="1" height="37" fill="#F23645"/>
<rect x="882" y="430" width="3" height="31" fill="#F23645"/>
<rect x="888" y="445" width="1" height="18" fill="#000000"/>
<rect x="887" y="450" width="3" height="10" fill="#2962FF"/>
<rect x="894" y="437" width="1" height="39" fill="#F23645"/>
<rect x="893" y="446" width="3" height="20" fill="#F23645"/>
<rect x="899" y="429" width="1" height="30" fill="#000000"/>
<rect x="898" y="448" width="3" height="9" fill="#2962FF"/>
<rect x="904" y="427" width="1" height="31" fill="#000000"/>
<rect x="903" y="436" width="3" height="9" fill="#2962FF"/>
<rect x="910" y="432" width="1" height="30" fill="#F23645"/>
<rect x="909" y="437" width="3" height="9" fill="#F23645"/>
<rect x="915" y="451" width="1" height="24" fill="#F23645"/>
<rect x="914" y="463" width="3" height="4" fill="#F23645"/>
<rect x="920" y="452" width="1" height="80" fill="#F23645"/>
<rect x="919" y="471" width="3" height="45" fill="#F23645"/>
<rect x="925" y="474" width="1" height="25" fill="#000000"/>
<rect x="924" y="476" width="3" height="9" fill="#2962FF"/>
<rect x="931" y="465" width="1" height="18" fill="#F23645"/>
<rect x="930" y="476" width="3" height="7" fill="#F23645"/>
<rect x="936" y="429" width="1" height="57" fill="#000000"/>
<rect x="935" y="464" width="3" height="22" fill="#2962FF"/>
<rect x="941" y="438" width="1" height="47" fill="#F23645"/>
<rect x="940" y="446" width="3" height="31" fill="#F23645"/>
<rect x="947" y="460" width="1" height="26" fill="#F23645"/>
<rect x="946" y="480" width="3" height="5" fill="#F23645"/>
<rect x="952" y="493" width="1" height="28" fill="#F23645"/>
<rect x="951" y="493" width="3" height="23" fill="#F23645"/>
<rect x="957" y="505" width="1" height="31" fill="#000000"/>
<rect x="956" y="505" width="3" height="10" fill="#2962FF"/>
<rect x="962" y="495" width="1" height="26" fill="#F23645"/>
<rect x="961" y="503" width="3" height="15" fill="#F23645"/>
<rect x="968" y="505" width="1" height="35" fill="#F23645"/>
<rect x="967" y="511" width="3" height="10" fill="#F23645"/>
<rect x="973" y="521" width="1" height="32" fill="#F23645"/>
<rect x="972" y="530" width="3" height="17" fill="#F23645"/>
<rect x="978" y="542" width="1" height="14" fill="#000000"/>
<rect x="977" y="548" width="3" height="4" fill="#2962FF"/>
<rect x="984" y="524" width="1" height="30" fill="#000000"/>
<rect x="983" y="530" width="3" height="5" fill="#2962FF"/>
<rect x="989" y="516" width="1" height="36" fill="#F23645"/>
<rect x="988" y="516" width="3" height="30" fill="#F23645"/>
<rect x="994" y="548" width="1" height="27" fill="#000000"/>
<rect x="993" y="559" width="3" height="5" fill="#2962FF"/>
<rect x="999" y="583" width="1" height="19" fill="#F23645"/>
<rect x="998" y="589" width="3" height="5" fill="#F23645"/>
<rect x="1005" y="575" width="1" height="17" fill="#000000"/>
<rect x="1004" y="586" width="3" height="5" fill="#2962FF"/>
<rect x="1010" y="577" width="1" height="25" fill="#F23645"/>
<rect x="1009" y="592" width="3" height="8" fill="#F23645"/>
<rect x="1015" y="604" width="1" height="18" fill="#F23645"/>
<rect x="1014" y="606" width="3" height="7" fill="#F23645"/>
<rect x="1021" y="615" width="1" height="22" fill="#F23645"/>
<rect x="1020" y="621" width="3" height="15" fill="#F23645"/>
<rect x="1026" y="604" width="1" height="23" fill="#000000"/>
<rect x="1025" y="620" width="3" height="7" fill="#2962FF"/>
<rect x="1031" y="617" width="1" height="21" fill="#000000"/>
<rect x="1030" y="624" width="3" height="7" fill="#2962FF"/>
<rect x="1036" y="566" width="1" height="28" fill="#000000"/>
<rect x="1035" y="572" width="3" height="22" fill="#2962FF"/>
<rect x="1042" y="564" width="1" height="25" fill="#F23645"/>
<rect x="1041" y="565" width="3" height="23" fill="#F23645"/>
<rect x="1047" y="572" width="1" height="42" fill="#F23645"/>
<rect x="1046" y="574" width="3" height="36" fill="#F23645"/>
<rect x="1052" y="541" width="1" height="59" fill="#000000"/>
<rect x="1051" y="552" width="3" height="40" fill="#2962FF"/>
<rect x="1058" y="543" width="1" height="42" fill="#F23645"/>
<rect x="1057" y="548" width="3" height="33" fill="#F23645"/>
<rect x="1063" y="584" width="1" height="26" fill="#000000"/>
<rect x="1062" y="587" width="3" height="1" fill="#2962FF"/>
<rect x="1068" y="540" width="1" height="43" fill="#000000"/>
<rect x="1067" y="558" width="3" height="15" fill="#2962FF"/>
<rect x="1073" y="534" width="1" height="28" fill="#F23645"/>
<rect x="1072" y="540" width="3" height="18" fill="#F23645"/>
<rect x="1079" y="562" width="1" height="21" fill="#F23645"/>
<rect x="1078" y="564" width="3" height="11" fill="#F23645"/>
<rect x="1084" y="567" width="1" height="19" fill="#000000"/>
<rect x="1083" y="572" width="3" height="7" fill="#2962FF"/>
<rect x="1089" y="546" width="1" height="37" fill="#000000"/>
<rect x="1088" y="553" width="3" height="17" fill="#2962FF"/>
<rect x="1095" y="516" width="1" height="53" fill="#000000"/>
<rect x="1094" y="529" width="3" height="22" fill="#2962FF"/>
<rect x="1100" y="500" width="1" height="31" fill="#000000"/>
<rect x="1099" y="506" width="3" height="22" fill="#2962FF"/>
<rect x="1105" y="502" width="1" height="28" fill="#000000"/>
<rect x="1104" y="507" width="3" height="3" fill="#2962FF"/>
<rect x="1111" y="525" width="1" height="17" fill="#F23645"/>
<rect x="1110" y="535" width="3" height="2" fill="#F23645"/>
<rect x="1116" y="510" width="1" height="21" fill="#000000"/>
<rect x="1115" y="515" width="3" height="15" fill="#2962FF"/>
<rect x="1121" y="534" width="1" height="47" fill="#F23645"/>
<rect x="1120" y="543" width="3" height="29" fill="#F23645"/>
<rect x="1126" y="544" width="1" height="25" fill="#F23645"/>
<rect x="1125" y="563" width="3" height="1" fill="#F23645"/>
<rect x="1132" y="553" width="1" height="21" fill="#F23645"/>
<rect x="1131" y="563" width="3" height="7" fill="#F23645"/>
<rect x="1137" y="555" width="1" height="29" fill="#000000"/>
<rect x="1136" y="560" width="3" height="17" fill="#2962FF"/>
<rect x="1142" y="564" width="1" height="20" fill="#F23645"/>
<rect x="1141" y="567" width="3" height="8" fill="#F23645"/>
<rect x="1148" y="471" width="1" height="58" fill="#000000"/>
<rect x="1147" y="481" width="3" height="46" fill="#2962FF"/>
<rect x="1153" y="451" width="1" height="35" fill="#F23645"/>
<rect x="1152" y="455" width="3" height="18" fill="#F23645"/>
<rect x="1158" y="399" width="1" height="122" fill="#000000"/>
<rect x="1157" y="399" width="3" height="109" fill="#2962FF"/>
<rect x="1163" y="351" width="1" height="124" fill="#F23645"/>
<rect x="1162" y="368" width="3" height="93" fill="#F23645"/>
<rect x="1169" y="458" width="1" height="30" fill="#F23645"/>
<rect x="1168" y="466" width="3" height="16" fill="#F23645"/>
<rect x="1174" y="478" width="1" height="36" fill="#F23645"/>
<rect x="1173" y="483" width="3" height="31" fill="#F23645"/>
<rect x="1179" y="511" width="1" height="33" fill="#F23645"/>
<rect x="1178" y="520" width="3" height="19" fill="#F23645"/>
<rect x="1185" y="546" width="1" height="44" fill="#F23645"/>
<rect x="1184" y="546" width="3" height="43" fill="#F23645"/>
<rect x="1190" y="578" width="1" height="26" fill="#F23645"/>
<rect x="1189" y="581" width="3" height="16" fill="#F23645"/>
<rect x="1195" y="562" width="1" height="32" fill="#000000"/>
<rect x="1194" y="569" width="3" height="22" fill="#2962FF"/>
<rect x="1200" y="540" width="1" height="24" fill="#000000"/>
<rect x="1199" y="556" width="3" height="7" fill="#2962FF"/>
<rect x="1206" y="508" width="1" height="57" fill="#000000"/>
<rect x="1205" y="519" width="3" height="35" fill="#2962FF"/>
<rect x="1211" y="477" width="1" height="35" fill="#000000"/>
<rect x="1210" y="484" width="3" height="28" fill="#2962FF"/>
<rect x="1216" y="457" width="1" height="18" fill="#000000"/>
<rect x="1215" y="460" width="3" height="14" fill="#2962FF"/>
<rect x="1222" y="435" width="1" height="27" fill="#000000"/>
<rect x="1221" y="442" width="3" height="16" fill="#2962FF"/>
<rect x="1227" y="424" width="1" height="30" fill="#000000"/>
<rect x="1226" y="428" width="3" height="16" fill="#2962FF"/>
<rect x="1232" y="421" width="1" height="13" fill="#000000"/>
<rect x="1231" y="425" width="3" height="7" fill="#2962FF"/>
<rect x="1237" y="398" width="1" height="18" fill="#F23645"/>
<rect x="1236" y="412" width="3" height="4" fill="#F23645"/>
<rect x="1243" y="417" width="1" height="22" fill="#F23645"/>
<rect x="1242" y="422" width="3" height="3" fill="#F23645"/>
<rect x="1248" y="384" width="1" height="43" fill="#000000"/>
<rect x="1247" y="390" width="3" height="37" fill="#2962FF"/>
<rect x="1253" y="384" width="1" height="24" fill="#000000"/>
<rect x="1252" y="385" width="3" height="13" fill="#2962FF"/>
<rect x="1259" y="382" width="1" height="12" fill="#000000"/>
<rect x="1258" y="388" width="3" height="1" fill="#2962FF"/>
<rect x="1264" y="358" width="1" height="35" fill="#000000"/>
<rect x="1263" y="365" width="3" height="25" fill="#2962FF"/>
<rect x="1269" y="365" width="1" height="17" fill="#F23645"/>
<rect x="1268" y="368" width="3" height="10" fill="#F23645"/>
<rect x="1274" y="364" width="1" height="26" fill="#000000"/>
<rect x="1273" y="381" width="3" height="9" fill="#2962FF"/>
<rect x="1280" y="359" width="1" height="45" fill="#F23645"/>
<rect x="1279" y="373" width="3" height="27" fill="#F23645"/>
<rect x="1285" y="372" width="1" height="33" fill="#F23645"/>
<rect x="1284" y="389" width="3" height="13" fill="#F23645"/>
<rect x="1290" y="403" width="1" height="31" fill="#F23645"/>
<rect x="1289" y="412" width="3" height="1" fill="#F23645"/>
<rect x="1296" y="401" width="1" height="13" fill="#000000"/>
<rect x="1295" y="406" width="3" height="2" fill="#2962FF"/>
<rect x="1301" y="403" width="1" height="33" fill="#F23645"/>
<rect x="1300" y="405" width="3" height="27" fill="#F23645"/>
<rect x="1306" y="405" width="1" height="22" fill="#F23645"/>
<rect x="1305" y="419" width="3" height="4" fill="#F23645"/>
<rect x="1312" y="406" width="1" height="24" fill="#000000"/>
<rect x="1311" y="421" width="3" height="7" fill="#2962FF"/>
<rect x="1317" y="388" width="1" height="20" fill="#000000"/>
<rect x="1316" y="407" width="3" height="1" fill="#2962FF"/>
<rect x="1322" y="361" width="1" height="45" fill="#000000"/>
<rect x="1321" y="361" width="3" height="45" fill="#2962FF"/>
<rect x="1327" y="340" width="1" height="44" fill="#F23645"/>
<rect x="1326" y="358" width="3" height="5" fill="#F23645"/>
<rect x="1333" y="361" width="1" height="30" fill="#F23645"/>
<rect x="1332" y="362" width="3" height="21" fill="#F23645"/>
<rect x="1338" y="356" width="1" height="50" fill="#000000"/>
<rect x="1337" y="357" width="3" height="26" fill="#2962FF"/>
<rect x="1343" y="357" width="1" height="37" fill="#F23645"/>
<rect x="1342" y="359" width="3" height="13" fill="#F23645"/>
<rect x="1349" y="360" width="1" height="29" fill="#F23645"/>
<rect x="1348" y="364" width="3" height="18" fill="#F23645"/>
<rect x="1354" y="380" width="1" height="30" fill="#F23645"/>
<rect x="1353" y="382" width="3" height="28" fill="#F23645"/>
<rect x="1359" y="394" width="1" height="46" fill="#F23645"/>
<rect x="1358" y="405" width="3" height="17" fill="#F23645"/>
<rect x="1364" y="421" width="1" height="38" fill="#F23645"/>
<rect x="1363" y="424" width="3" height="25" fill="#F23645"/>
<rect x="1370" y="426" width="1" height="32" fill="#000000"/>
<rect x="1369" y="451" width="3" height="6" fill="#2962FF"/>
<rect x="1375" y="491" width="1" height="97" fill="#F23645"/>
<rect x="1374" y="496" width="3" height="72" fill="#F23645"/>
<rect x="1380" y="506" width="1" height="50" fill="#000000"/>
<rect x="1379" y="520" width="3" height="32" fill="#2962FF"/>
<rect x="1386" y="492" width="1" height="63" fill="#000000"/>
<rect x="1385" y="522" width="3" height="9" fill="#2962FF"/>
<rect x="1391" y="481" width="1" height="59" fill="#F23645"/>
<rect x="1390" y="515" width="3" height="24" fill="#F23645"/>
<rect x="1396" y="531" width="1" height="36" fill="#F23645"/>
<rect x="1395" y="535" width="3" height="30" fill="#F23645"/>
<rect x="1401" y="538" width="1" height="24" fill="#000000"/>
<rect x="1400" y="545" width="3" height="11" fill="#2962FF"/>
<rect x="1407" y="540" width="1" height="17" fill="#000000"/>
<rect x="1406" y="541" width="3" height="4" fill="#2962FF"/>
<rect x="1412" y="510" width="1" height="43" fill="#000000"/>
<rect x="1411" y="525" width="3" height="27" fill="#2962FF"/>
<rect x="1417" y="500" width="1" height="20" fill="#F23645"/>
<rect x="1416" y="514" width="3" height="3" fill="#F23645"/>
<rect x="1423" y="503" width="1" height="23" fill="#F23645"/>
<rect x="1422" y="509" width="3" height="11" fill="#F23645"/>
<rect x="1428" y="509" width="1" height="23" fill="#F23645"/>
<rect x="1427" y="515" width="3" height="11" fill="#F23645"/>
<rect x="1433" y="497" width="1" height="44" fill="#000000"/>
<rect x="1432" y="523" width="3" height="2" fill="#2962FF"/>
<rect x="1438" y="536" width="1" height="30" fill="#F23645"/>
<rect x="1437" y="545" width="3" height="8" fill="#F23645"/>
<rect x="1444" y="532" width="1" height="26" fill="#F23645"/>
<rect x="1443" y="549" width="3" height="9" fill="#F23645"/>
<rect x="1449" y="537" width="1" height="64" fill="#F23645"/>
<rect x="1448" y="541" width="3" height="49" fill="#F23645"/>
<rect x="1454" y="567" width="1" height="24" fill="#F23645"/>
<rect x="1453" y="574" width="3" height="17" fill="#F23645"/>
<rect x="1460" y="554" width="1" height="34" fill="#000000"/>
<rect x="1459" y="573" width="3" height="11" fill="#2962FF"/>
<rect x="1465" y="557" width="1" height="23" fill="#F23645"/>
<rect x="1464" y="559" width="3" height="13" fill="#F23645"/>
<rect x="1470" y="562" width="1" height="22" fill="#F23645"/>
<rect x="1469" y="563" width="3" height="13" fill="#F23645"/>
<rect x="1475" y="546" width="1" height="53" fill="#000000"/>
<rect x="1474" y="554" width="3" height="35" fill="#2962FF"/>
<rect x="1481" y="547" width="1" height="27" fill="#000000"/>
<rect x="1480" y="547" width="3" height="11" fill="#2962FF"/>
<rect x="1486" y="543" width="1" height="27" fill="#F23645"/>
<rect x="1485" y="544" width="3" height="9" fill="#F23645"/>
<rect x="1491" y="561" width="1" height="29" fill="#F23645"/>
<rect x="1490" y="561" width="3" height="26" fill="#F23645"/>
<rect x="1497" y="570" width="1" height="30" fill="#000000"/>
<rect x="1496" y="585" width="3" height="10" fill="#2962FF"/>
<rect x="1502" y="566" width="1" height="23" fill="#000000"/>
<rect x="1501" y="566" width="3" height="14" fill="#2962FF"/>
<rect x="1507" y="546" width="1" height="24" fill="#000000"/>
<rect x="1506" y="551" width="3" height="7" fill="#2962FF"/>
<rect x="1512" y="542" width="1" height="26" fill="#000000"/>
<rect x="1511" y="550" width="3" height="16" fill="#2962FF"/>
<rect x="1518" y="522" width="1" height="30" fill="#000000"/>
<rect x="1517" y="541" width="3" height="5" fill="#2962FF"/>
<rect x="1523" y="505" width="1" height="68" fill="#F23645"/>
<rect x="1522" y="540" width="3" height="31" fill="#F23645"/>
<rect x="1528" y="556" width="1" height="21" fill="#F23645"/>
<rect x="1527" y="565" width="3" height="7" fill="#F23645"/>
<rect x="1534" y="524" width="1" height="47" fill="#000000"/>
<rect x="1533" y="535" width="3" height="36" fill="#2962FF"/>
<rect x="1539" y="549" width="1" height="19" fill="#F23645"/>
<rect x="1538" y="550" width="3" height="4" fill="#F23645"/>
<rect x="1544" y="509" width="1" height="67" fill="#000000"/>
<rect x="1543" y="517" width="3" height="53" fill="#2962FF"/>
<rect x="1550" y="504" width="1" height="23" fill="#F23645"/>
<rect x="1549" y="517" width="3" height="10" fill="#F23645"/>
<rect x="1555" y="484" width="1" height="30" fill="#000000"/>
<rect x="1554" y="503" width="3" height="10" fill="#2962FF"/>
<rect x="1560" y="472" width="1" height="18" fill="#000000"/>
<rect x="1559" y="478" width="3" height="6" fill="#2962FF"/>
<rect x="1565" y="441" width="1" height="44" fill="#000000"/>
<rect x="1564" y="445" width="3" height="31" fill="#2962FF"/>
<rect x="1571" y="406" width="1" height="27" fill="#000000"/>
<rect x="1570" y="429" width="3" height="4" fill="#2962FF"/>
<rect x="1576" y="404" width="1" height="28" fill="#F23645"/>
<rect x="1575" y="420" width="3" height="4" fill="#F23645"/>
<rect x="1581" y="425" width="1" height="38" fill="#F23645"/>
<rect x="1580" y="434" width="3" height="12" fill="#F23645"/>
<rect x="1587" y="436" width="1" height="33" fill="#F23645"/>
<rect x="1586" y="453" width="3" height="15" fill="#F23645"/>
<rect x="1592" y="483" width="1" height="29" fill="#F23645"/>
<rect x="1591" y="490" width="3" height="6" fill="#F23645"/>
<g shape-rendering="geometricPrecision" stroke="#000" stroke-width="3" stroke-linecap="round" stroke-linejoin="round" fill="none"><path d="M1618.2,383.9 L1686.8,487.5 M1665.9,483 L1686.8,487.5 L1691.2,465.9"/><path d="M1639.3,650.5 L1697.2,547.6 M1676.8,553.1 L1697.2,547.6 L1703.5,568.5"/></g>
</g>
<g clip-path="url(#paxis)" fill="#1E222D"><text x="1866" y="37.0" font-size="12" textLength="34.5" lengthAdjust="spacingAndGlyphs">122,00</text><text x="1866" y="70.8" font-size="12" textLength="34.5" lengthAdjust="spacingAndGlyphs">120,00</text><text x="1866" y="104.6" font-size="12" textLength="33.7" lengthAdjust="spacingAndGlyphs">118,00</text><text x="1866" y="138.4" font-size="12" textLength="33.7" lengthAdjust="spacingAndGlyphs">116,00</text><text x="1866" y="172.1" font-size="12" textLength="33.7" lengthAdjust="spacingAndGlyphs">114,00</text><text x="1866" y="205.9" font-size="12" textLength="33.7" lengthAdjust="spacingAndGlyphs">112,00</text><text x="1866" y="239.7" font-size="12" textLength="33.7" lengthAdjust="spacingAndGlyphs">110,00</text><text x="1866" y="273.5" font-size="12" textLength="34.5" lengthAdjust="spacingAndGlyphs">108,00</text><text x="1866" y="307.3" font-size="12" textLength="34.5" lengthAdjust="spacingAndGlyphs">106,00</text><text x="1866" y="341.0" font-size="12" textLength="34.5" lengthAdjust="spacingAndGlyphs">104,00</text><text x="1866" y="374.8" font-size="12" textLength="34.5" lengthAdjust="spacingAndGlyphs">102,00</text><text x="1866" y="408.6" font-size="12" textLength="34.5" lengthAdjust="spacingAndGlyphs">100,00</text><text x="1866" y="442.4" font-size="12" textLength="28.2" lengthAdjust="spacingAndGlyphs">98,00</text><text x="1866" y="476.2" font-size="12" textLength="28.2" lengthAdjust="spacingAndGlyphs">96,00</text><text x="1866" y="509.9" font-size="12" textLength="28.2" lengthAdjust="spacingAndGlyphs">94,00</text><text x="1866" y="543.7" font-size="12" textLength="28.2" lengthAdjust="spacingAndGlyphs">92,00</text><text x="1866" y="577.5" font-size="12" textLength="28.2" lengthAdjust="spacingAndGlyphs">90,00</text><text x="1866" y="611.3" font-size="12" textLength="28.2" lengthAdjust="spacingAndGlyphs">88,00</text><text x="1866" y="645.1" font-size="12" textLength="28.2" lengthAdjust="spacingAndGlyphs">86,00</text><text x="1866" y="678.8" font-size="12" textLength="28.2" lengthAdjust="spacingAndGlyphs">84,00</text><text x="1866" y="712.6" font-size="12" textLength="28.2" lengthAdjust="spacingAndGlyphs">82,00</text><text x="1866" y="746.4" font-size="12" textLength="28.2" lengthAdjust="spacingAndGlyphs">80,00</text><text x="1866" y="780.2" font-size="12" textLength="28.2" lengthAdjust="spacingAndGlyphs">78,00</text><text x="1866" y="814.0" font-size="12" textLength="28.2" lengthAdjust="spacingAndGlyphs">76,00</text><text x="1866" y="847.7" font-size="12" textLength="28.2" lengthAdjust="spacingAndGlyphs">74,00</text><text x="1866" y="881.5" font-size="12" textLength="28.2" lengthAdjust="spacingAndGlyphs">72,00</text><text x="1866" y="915.3" font-size="12" textLength="28.2" lengthAdjust="spacingAndGlyphs">70,00</text><text x="1866" y="949.1" font-size="12" textLength="28.2" lengthAdjust="spacingAndGlyphs">68,00</text><text x="1866" y="982.9" font-size="12" textLength="28.2" lengthAdjust="spacingAndGlyphs">66,00</text><text x="1866" y="1016.6" font-size="12" textLength="28.2" lengthAdjust="spacingAndGlyphs">64,00</text></g>
<rect x="1857" y="1" width="50" height="31.5" fill="#fff"/>
<rect x="1861" y="3.5" width="44" height="24.5" rx="4" fill="#fff" stroke="#E0E3EB" stroke-width="1"/>
<text x="1864.6" y="19.8" font-size="12.5" fill="#1E222D" textLength="20.6" lengthAdjust="spacingAndGlyphs">EUR</text>
<path d="M1896.2,15.2 L1898.6,17.6 L1901,15.2" fill="none" stroke="#1E222D" stroke-width="1.3"/>
<path d="M1857,487 H1898 a2,2 0 0 1 2,2 V502 a2,2 0 0 1 -2,2 H1857 Z" fill="#000"/>
<text x="1865.2" y="499.2" font-size="12" font-weight="bold" fill="#fff" textLength="29.3" lengthAdjust="spacingAndGlyphs">94,70</text>
<rect x="1862" y="1021" width="18" height="20" rx="3" fill="#fff" stroke="#E8E9ED" stroke-width="1"/>
<rect x="1886" y="1021" width="18" height="20" rx="3" fill="#fff" stroke="#E8E9ED" stroke-width="1"/>
<text x="1871" y="1035.5" font-size="12" text-anchor="middle" fill="#1E222D">A</text>
<text x="1895" y="1035.5" font-size="12" text-anchor="middle" fill="#1E222D">L</text>
<path d="M1876.5,1060.4 L1880.0,1054.4 L1887.0,1054.4 L1890.5,1060.4 L1887.0,1066.4 L1880.0,1066.4 Z" fill="none" stroke="#1E222D" stroke-width="1.2"/>
<circle cx="1883.5" cy="1060.4" r="2.3" fill="none" stroke="#1E222D" stroke-width="1.2"/>
<g clip-path="url(#taxis)" fill="#1E222D"><text x="73.8" y="1064.3" font-size="12" text-anchor="middle" textLength="18.3" lengthAdjust="spacingAndGlyphs">Okt</text><text x="195.6" y="1064.3" font-size="12" text-anchor="middle" textLength="19.9" lengthAdjust="spacingAndGlyphs">Nov</text><text x="306.9" y="1064.3" font-size="12" text-anchor="middle" textLength="18.9" lengthAdjust="spacingAndGlyphs">Dez</text><text x="401.8" y="1064.3" font-size="12" stroke="#1E222D" stroke-width="0.45" text-anchor="middle" textLength="26.9" lengthAdjust="spacingAndGlyphs">2025</text><text x="518.4" y="1064.3" font-size="12" text-anchor="middle" textLength="19.6" lengthAdjust="spacingAndGlyphs">Feb</text><text x="624.0" y="1064.3" font-size="12" text-anchor="middle" textLength="20.0" lengthAdjust="spacingAndGlyphs">Mrz</text><text x="735.1" y="1064.3" font-size="12" text-anchor="middle" textLength="18.2" lengthAdjust="spacingAndGlyphs">Apr</text><text x="840.7" y="1064.3" font-size="12" text-anchor="middle" textLength="18.6" lengthAdjust="spacingAndGlyphs">Mai</text><text x="952.0" y="1064.3" font-size="12" text-anchor="middle" textLength="19.1" lengthAdjust="spacingAndGlyphs">Jun</text><text x="1062.8" y="1064.3" font-size="12" text-anchor="middle" textLength="15.5" lengthAdjust="spacingAndGlyphs">Jul</text><text x="1184.3" y="1064.3" font-size="12" text-anchor="middle" textLength="19.1" lengthAdjust="spacingAndGlyphs">Aug</text><text x="1295.4" y="1064.3" font-size="12" text-anchor="middle" textLength="18.8" lengthAdjust="spacingAndGlyphs">Sep</text><text x="1412.0" y="1064.3" font-size="12" text-anchor="middle" textLength="18.6" lengthAdjust="spacingAndGlyphs">Okt</text><text x="1534.0" y="1064.3" font-size="12" text-anchor="middle" textLength="19.7" lengthAdjust="spacingAndGlyphs">Nov</text><text x="1639.4" y="1064.3" font-size="12" text-anchor="middle" textLength="19.2" lengthAdjust="spacingAndGlyphs">Dez</text><text x="1740.0" y="1064.3" font-size="12" stroke="#1E222D" stroke-width="0.45" text-anchor="middle" textLength="26.5" lengthAdjust="spacingAndGlyphs">2026</text><text x="1856.5" y="1064.3" font-size="12" text-anchor="middle" textLength="19.6" lengthAdjust="spacingAndGlyphs">Feb</text></g>
<circle cx="17" cy="14.9" r="9" fill="#3167C9"/>
<circle cx="17" cy="14.95" r="5.1" fill="#fff"/>
<g fill="none" stroke="#3167C9" stroke-width="1.05" stroke-linejoin="round"><path d="M14.5,11.3 L17,16.1 L19.5,11.3"/><path d="M13.1,14 L15.1,18.4 L17,15.9 L18.9,18.4 L20.9,14"/></g>
<text x="30.7" y="20.8" font-size="15" fill="#2A2E39" textLength="271.2" lengthAdjust="spacingAndGlyphs">VOW3 · Volkswagen AG Pref · 1T · XETR</text>
<path d="M319.3,6.2 H329.4 V23.8 H319.3 a8.8,8.8 0 0 1 0,-17.6 Z" fill="#EDEDED"/>
<path d="M329.4,6.2 H341.3 a8.8,8.8 0 0 1 0,17.6 H329.4 Z" fill="#FFF4E5"/>
<rect x="316" y="13.3" width="9.8" height="3.6" rx="1.8" fill="#8F8F8F"/>
<text x="335.7" y="19.8" font-size="13" font-weight="bold" fill="#F57C00" textLength="7.2" lengthAdjust="spacingAndGlyphs">D</text>
<rect x="8" y="31" width="36.5" height="19" rx="3" fill="#fff" stroke="#E0E3EB" stroke-width="1"/>
<path d="M14,38.6 L17.7,42.3 L21.4,38.6" fill="none" stroke="#1E222D" stroke-width="1.4"/>
<text x="28" y="44.5" font-size="12" fill="#1E222D" textLength="12.4" lengthAdjust="spacingAndGlyphs">10</text>
<circle cx="71" cy="40.8" r="8.8" fill="#EEE6FE"/>
<g fill="none" stroke="#6A2CF4" stroke-width="1.5"><path d="M66.3,39.2 A5,5 0 0 1 75.6,38.6"/><path d="M75.7,42.4 A5,5 0 0 1 66.4,43"/></g>
<path d="M77.8,37.2 L75.9,40.6 L73.2,37.7 Z M64.2,44.4 L66.1,41 L68.8,43.9 Z" fill="#6A2CF4"/>
<g fill="#131313"><path d="M10.9,1017 H23.1 V1032 H17 V1022.6 H10.9 Z"/><circle cx="27.9" cy="1020" r="2.7"/><path d="M35.5,1017 H40.9 L34.9,1032 H28.3 Z"/><path d="M44.9,1017 H79.9 L74.1,1032 H39.1 Z"/></g>
<text x="49.3" y="1028" font-size="9.6" font-weight="bold" fill="#fff" textLength="20.7" lengthAdjust="spacingAndGlyphs">PRO</text>
<circle cx="1593.5" cy="1034.2" r="9" fill="none" stroke="#9C27B0" stroke-width="1.3"/>
<path d="M1549,983.3 C1562,983 1585,986 1599,991.8 C1608,995.8 1612.6,1001 1612.6,1007.7 C1612.6,1013 1609.5,1019 1603,1026 C1596,1034 1588,1040 1581.9,1042 C1576,1044 1569,1043.6 1565,1041 C1558,1036 1553,1028 1550.5,1021.5 C1547.5,1013 1545.5,1003 1545.3,995.5 C1545.2,988 1545.8,983.5 1549,983.3 Z" fill="#000"/>
<path d="M1560.3,994 L1583.3,994 C1591,994 1596.1,1000 1596.1,1007.8 C1596.1,1015.6 1591,1021.6 1583.3,1021.6 L1574.8,1021.6 L1574.8,1034.7 L1566.8,1034.7 L1566.8,1005.9 L1574.8,1005.9 L1574.8,1013.7 L1583.3,1013.7 C1586,1013.7 1588.2,1011 1588.2,1007.8 C1588.2,1004.6 1586,1001.9 1583.3,1001.9 L1556.9,1001.9 Z" fill="#fff"/>
<text x="1624.15 1649.1 1671.45 1696.25 1720.6 1741.9 1754.5 1775.55 1789.2 1812 1835.1" y="1021.8" font-size="41" font-weight="bold" fill="#000">pepperstone</text>
</svg>
</body></html>
